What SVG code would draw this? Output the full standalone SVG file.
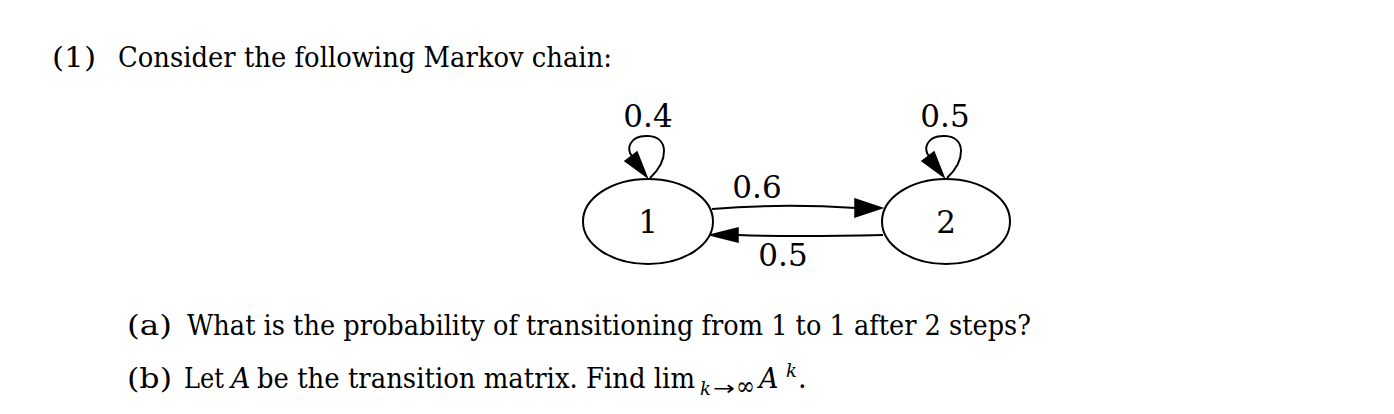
<svg xmlns="http://www.w3.org/2000/svg" width="1394" height="414" viewBox="0 0 1394 414">
<style>
.q{font-family:"DejaVu Serif","Liberation Serif",serif;font-size:27px;fill:#000}
.s{font-family:"DejaVu Serif","Liberation Serif",serif;font-size:18px;fill:#000}
.m{font-family:"DejaVu Sans","Liberation Sans",sans-serif;font-size:20px;fill:#000}
.i{font-family:"DejaVu Serif","Liberation Serif",serif;font-size:26px;fill:#000}
.g{font-family:"DejaVu Serif","Liberation Serif",serif;font-size:31px;fill:#000;text-anchor:middle}
.n{fill:none;stroke:#000;stroke-width:2}
.e{fill:none;stroke:#000;stroke-width:2}
.h{fill:#000;stroke:#000;stroke-width:1.5}
</style>
<rect width="1394" height="414" fill="#fff"/>
<g id="title">
<text class="q" x="52" y="67" textLength="44" lengthAdjust="spacingAndGlyphs">(1)</text>
<text class="q" x="118" y="67" textLength="494" lengthAdjust="spacingAndGlyphs">Consider the following Markov chain:</text>
</g>
<g id="node1">
<ellipse class="n" cx="648" cy="221.5" rx="65" ry="42.5"/>
<text class="g" x="648" y="233">1</text>
</g>
<g id="node2">
<ellipse class="n" cx="946" cy="221.5" rx="64" ry="42.5"/>
<text class="g" x="946" y="233">2</text>
</g>
<g id="connectors">
<path class="e" d="M650,178 C669,160 669,137 648,136 C629,135 626,150 632,156"/>
<polygon class="h" points="625,161 637,152 647,177"/>
<text class="g" x="648" y="127">0.4</text>
<path class="e" d="M947,178 C966,160 966,137 945,136 C926,135 923,150 929,156"/>
<polygon class="h" points="922,161 934,152 944,177"/>
<text class="g" x="945" y="127">0.5</text>
<path class="e" d="M712,209 C760,205 810,205 856,208"/>
<polygon class="h" points="855,199 882,208 855,217"/>
<text class="g" x="757" y="198">0.6</text>
<path class="e" d="M883,235 C840,236 790,237 738,235"/>
<polygon class="h" points="738,228 710,235 738,242"/>
<text class="g" x="783" y="266">0.5</text>
</g>
<g id="questions">
<text class="q" x="127" y="335" textLength="45" lengthAdjust="spacingAndGlyphs">(a)</text>
<text class="q" x="187" y="335" textLength="844" lengthAdjust="spacingAndGlyphs">What is the probability of transitioning from 1 to 1 after 2 steps?</text>
<text class="q" x="127" y="388" textLength="45" lengthAdjust="spacingAndGlyphs">(b)</text>
<text class="q" x="184" y="388" textLength="40" lengthAdjust="spacingAndGlyphs">Let</text>
<text class="q" x="231" y="388" font-style="italic">A</text>
<text class="q" x="257" y="388" textLength="438" lengthAdjust="spacingAndGlyphs">be the transition matrix. Find lim</text>
<text class="s" x="700" y="395" font-style="italic">k</text>
<text class="m" x="713" y="395" textLength="22" lengthAdjust="spacingAndGlyphs">→</text>
<text class="i" x="736" y="395" textLength="19" lengthAdjust="spacingAndGlyphs">∞</text>
<text class="q" x="759" y="388" font-style="italic">A</text>
<text class="s" x="786" y="377" font-style="italic">k</text>
<text class="q" x="798" y="388">.</text>
</g>
</svg>
